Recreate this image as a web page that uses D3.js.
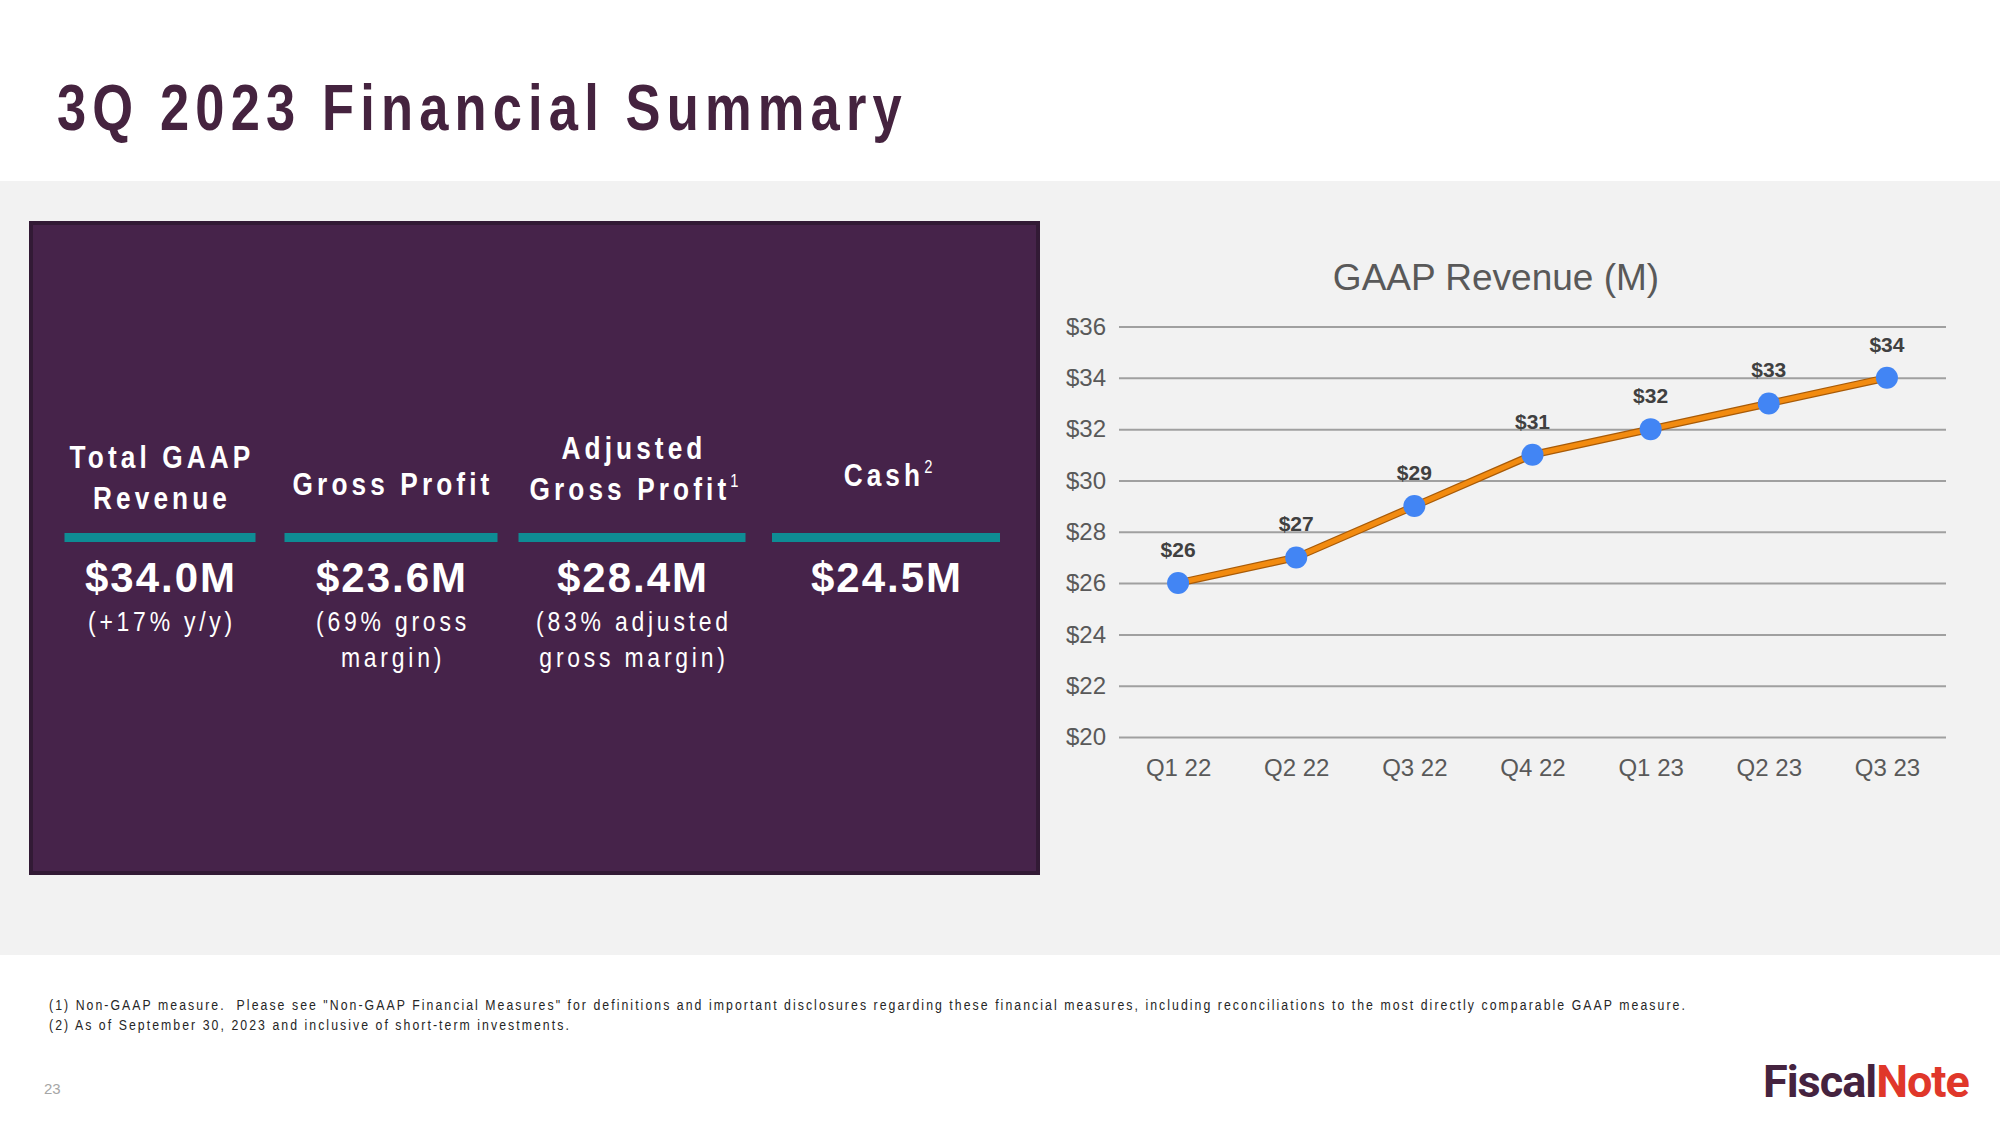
<!DOCTYPE html>
<html>
<head>
<meta charset="utf-8">
<script src="https://cdn.jsdelivr.net/npm/d3@7"></script>
<style>
  html, body { margin: 0; padding: 0; background: #ffffff; }
  svg { display: block; }
</style>
</head>
<body>
<div id="chart"></div>
<script>
// ---------------- DATA ----------------
const quarters = ["Q1 22", "Q2 22", "Q3 22", "Q4 22", "Q1 23", "Q2 23", "Q3 23"];
const revenue = [26, 27, 29, 31, 32, 33, 34];
const yTicks = [20, 22, 24, 26, 28, 30, 32, 34, 36];
const chartTitle = "GAAP Revenue (M)";
const pageTitle = "3Q 2023 Financial Summary";

const metricHeaders = [
  [["Total GAAP", ""], ["Revenue", ""]],
  [["Gross Profit", ""]],
  [["Adjusted", ""], ["Gross Profit", "1"]],
  [["Cash", "2"]]
];
const metricValues = ["$34.0M", "$23.6M", "$28.4M", "$24.5M"];
const metricNotes = [
  ["(+17% y/y)"],
  ["(69% gross", "margin)"],
  ["(83% adjusted", "gross margin)"],
  []
];
const footnotes = [
  "(1) Non-GAAP measure.  Please see \"Non-GAAP Financial Measures\" for definitions and important disclosures regarding these financial measures, including reconciliations to the most directly comparable GAAP measure.",
  "(2) As of September 30, 2023 and inclusive of short-term investments."
];
const pageNumber = "23";

// ---------------- LAYOUT ----------------
const W = 2000, H = 1125;
const purple = "#46234a";
const arial = "'Liberation Sans', Arial, sans-serif";
const NARROW = 0.82;

const svg = d3.select("#chart").append("svg")
  .attr("width", W).attr("height", H)
  .attr("viewBox", `0 0 ${W} ${H}`);

// text drawn with a horizontally condensed Arial (Arial Narrow look)
function narrowText(parent, x, y) {
  return parent.append("text")
    .attr("transform", `translate(${x},${y}) scale(${NARROW},1)`)
    .attr("x", 0).attr("y", 0)
    .attr("font-family", arial);
}

// backgrounds
svg.append("rect").attr("x", 0).attr("y", 0).attr("width", W).attr("height", H).attr("fill", "#ffffff");
svg.append("rect").attr("x", 0).attr("y", 181).attr("width", W).attr("height", 774).attr("fill", "#f2f2f2");

// page title
narrowText(svg, 57, 130)
  .attr("font-weight", 700)
  .attr("font-size", 64).attr("letter-spacing", 7.5)
  .attr("fill", "#45233f")
  .text(pageTitle);

// ---------------- LEFT PANEL ----------------
svg.append("rect")
  .attr("x", 31).attr("y", 223).attr("width", 1007).attr("height", 650)
  .attr("fill", purple).attr("stroke", "#321a35").attr("stroke-width", 4);

const colCenters = [160, 391, 632, 886];
const barWidths = [191, 213, 227, 228];
const headerBaselines = [[468, 509], [495], [459, 500], [486]];

const cols = svg.append("g").selectAll("g")
  .data(metricValues.map((v, i) => ({
    value: v, header: metricHeaders[i], notes: metricNotes[i],
    cx: colCenters[i], bw: barWidths[i], hb: headerBaselines[i]
  })))
  .join("g");

cols.each(function(d) {
  const g = d3.select(this);
  d.header.forEach((line, j) => {
    const t = narrowText(g, d.cx + 2, d.hb[j])
      .attr("text-anchor", "middle")
      .attr("font-weight", 700)
      .attr("font-size", 32).attr("letter-spacing", 5)
      .attr("fill", "#ffffff");
    t.append("tspan").text(line[0]);
    if (line[1]) {
      t.append("tspan").attr("font-size", 18).attr("font-weight", 400)
        .attr("dy", -13).attr("letter-spacing", 0).text(line[1]);
    }
  });
  g.append("rect")
    .attr("x", d.cx - d.bw / 2).attr("y", 533)
    .attr("width", d.bw).attr("height", 9)
    .attr("fill", "#0e8c94");
  g.append("text")
    .attr("x", d.cx + 1).attr("y", 592)
    .attr("text-anchor", "middle")
    .attr("font-family", arial).attr("font-weight", 700)
    .attr("font-size", 42).attr("letter-spacing", 2)
    .attr("fill", "#ffffff")
    .text(d.value);
  d.notes.forEach((n, j) => {
    narrowText(g, d.cx + 2, 631 + j * 36)
      .attr("text-anchor", "middle")
      .attr("font-weight", 400)
      .attr("font-size", 28).attr("letter-spacing", 4.6)
      .attr("fill", "#ffffff")
      .text(n);
  });
});

// ---------------- LINE CHART ----------------
const plot = { left: 1119, right: 1946, top: 326.5, bottom: 737 };

const x = d3.scalePoint().domain(quarters)
  .range([plot.left, plot.right]).padding(0.5);
const y = d3.scaleLinear().domain([20, 36])
  .range([plot.bottom, plot.top]);

svg.append("text")
  .attr("x", 1496).attr("y", 290)
  .attr("text-anchor", "middle")
  .attr("font-family", arial).attr("font-size", 37)
  .attr("fill", "#595959")
  .text(chartTitle);

const yAxis = svg.append("g")
  .attr("transform", `translate(${plot.left},0)`)
  .call(d3.axisLeft(y).tickValues(yTicks)
    .tickSize(-(plot.right - plot.left)).tickPadding(13)
    .tickFormat(d => "$" + d));
yAxis.select(".domain").remove();
yAxis.selectAll(".tick line").attr("stroke", "#a0a0a0").attr("stroke-width", 2);
yAxis.selectAll(".tick text")
  .attr("font-family", arial).attr("font-size", 24)
  .attr("fill", "#595959");

const xAxis = svg.append("g")
  .attr("transform", `translate(0,${plot.bottom})`)
  .call(d3.axisBottom(x).tickSize(0).tickPadding(22));
xAxis.select(".domain").remove();
xAxis.selectAll(".tick text")
  .attr("font-family", arial).attr("font-size", 24)
  .attr("fill", "#595959");

const pts = quarters.map((q, i) => ({ q, v: revenue[i] }));
const line = d3.line().x(d => x(d.q)).y(d => y(d.v));

svg.append("path").datum(pts)
  .attr("d", line).attr("fill", "none")
  .attr("stroke", "#a85b08").attr("stroke-width", 7.5)
  .attr("stroke-linejoin", "round");
svg.append("path").datum(pts)
  .attr("d", line).attr("fill", "none")
  .attr("stroke", "#f28b10").attr("stroke-width", 5)
  .attr("stroke-linejoin", "round");

svg.append("g").selectAll("circle").data(pts).join("circle")
  .attr("cx", d => x(d.q)).attr("cy", d => y(d.v))
  .attr("r", 11).attr("fill", "#4285f4");

svg.append("g").selectAll("text").data(pts).join("text")
  .attr("x", d => x(d.q)).attr("y", d => y(d.v) - 26)
  .attr("text-anchor", "middle")
  .attr("font-family", arial).attr("font-weight", 700)
  .attr("font-size", 21).attr("fill", "#404040")
  .text(d => "$" + d.v);

// ---------------- FOOTER ----------------
footnotes.forEach((f, i) => {
  narrowText(svg, 49, 1010 + i * 20)
    .attr("font-size", 15)
    .attr("letter-spacing", 2.5)
    .attr("fill", "#262626")
    .style("white-space", "pre")
    .text(f);
});

svg.append("text")
  .attr("x", 44).attr("y", 1094)
  .attr("font-family", arial).attr("font-size", 15)
  .attr("fill", "#a6a6a6")
  .text(pageNumber);

const logo = svg.append("text")
  .attr("x", 1763).attr("y", 1097)
  .attr("font-family", "Roboto, 'Open Sans', sans-serif").attr("font-weight", 700)
  .attr("font-size", 45).attr("letter-spacing", -1);
logo.append("tspan").attr("fill", "#45233f").text("Fiscal");
logo.append("tspan").attr("fill", "#e0372a").text("Note");
</script>
</body>
</html>
